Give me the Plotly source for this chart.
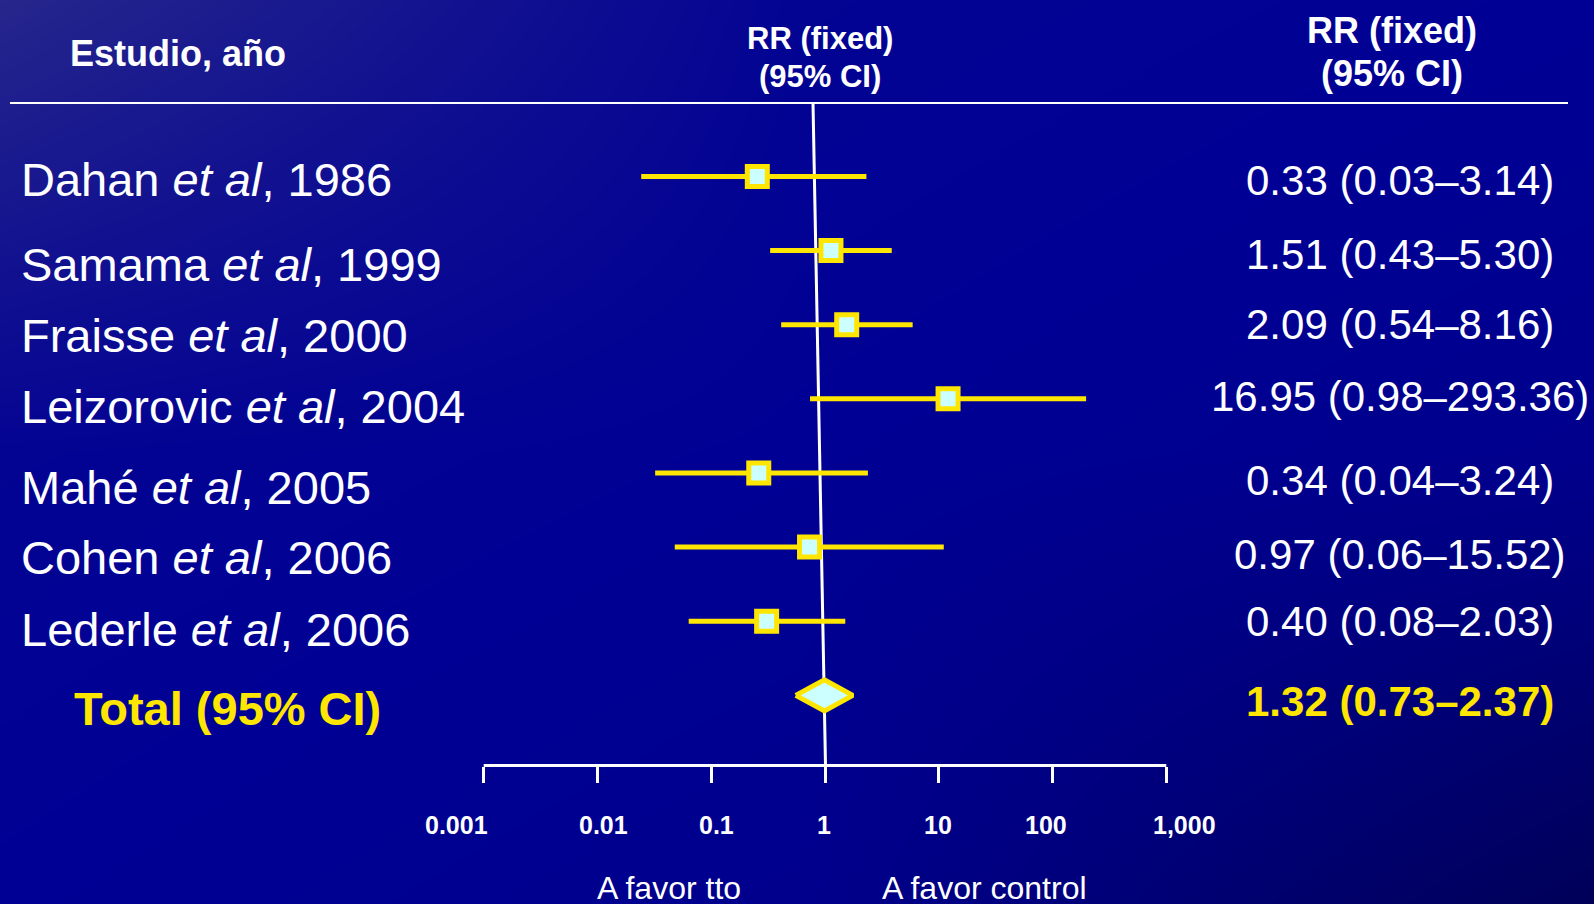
import math
import plotly.graph_objects as go

# ---------------- data ----------------
studies = ["Dahan", "Samama", "Fraisse", "Leizorovic", "Mahé", "Cohen", "Lederle"]
years = [1986, 1999, 2000, 2004, 2005, 2006, 2006]
rr = [0.33, 1.51, 2.09, 16.95, 0.34, 0.97, 0.40]
ci_low = [0.03, 0.43, 0.54, 0.98, 0.04, 0.06, 0.08]
ci_high = [3.14, 5.30, 8.16, 293.36, 3.24, 15.52, 2.03]
total_rr = 1.32
total_low = 0.73
total_high = 2.37
tick_vals = [0.001, 0.01, 0.1, 1, 10, 100, 1000]
tick_text = ["0.001", "0.01", "0.1", "1", "10", "100", "1,000"]

# ---------------- layout helpers ----------------
W, H = 1594, 904
FONT = "Arial, 'Liberation Sans', sans-serif"
YELLOW = "#FFE600"
CYAN = "#CCFFFF"

# per-row vertical offsets (px, downwards) of the text labels, as placed on the slide
name_dy = [2.6, 13.5, 10.8, 7.8, 15.0, 10.0, 7.8, 13.3]
value_dy = [3.6, 3.5, 0.3, -2.3, 7.1, 7.0, -0.2, 6.2]
# horizontal offsets (px) of the tick labels from their ticks, as placed on the slide
tick_dx = [-27.7, 6.1, 5.0, -1.5, -0.5, -6.3, 18.3]


def fx(px):
    return px / W


def fy(py):
    return 1 - py / H


# data (forest) axis: pixel of RR=1 and pixels per decade
D_ONE, D_DEC = 811.0, 111.5
# bottom scale axis
S_ONE, S_DEC = 825.0, 113.76
# rows
ROW0, ROW_STEP = 176.4, 74.14


def row_of(py):
    return (py - ROW0) / ROW_STEP


def dval(px):
    return 10 ** ((px - D_ONE) / D_DEC)


n = len(studies)
rows = list(range(n))
total_row = n

fig = go.Figure()

# background gradient
fig.add_trace(go.Heatmap(
    x=[0, 0.5, 1], y=[0, 0.5, 1],
    z=[[0.5, 0.56, 1.0], [0.45, 0.5, 0.56], [0.0, 0.45, 0.5]],
    zmin=0, zmax=1, zsmooth="best", showscale=False, hoverinfo="skip",
    colorscale=[[0, "rgb(38,38,140)"], [0.5, "rgb(0,0,148)"], [1, "rgb(0,0,88)"]],
    xaxis="x", yaxis="y",
))

# null line (slightly slanted as in the slide)
fig.add_trace(go.Scatter(
    x=[dval(813), dval(825.5)], y=[row_of(103), row_of(765.5)],
    mode="lines", line=dict(color="white", width=3),
    xaxis="x2", yaxis="y2", hoverinfo="skip", showlegend=False,
))

# CI lines
cx, cy = [], []
for i in range(n):
    cx += [ci_low[i], ci_high[i], None]
    cy += [rows[i], rows[i], None]
fig.add_trace(go.Scatter(
    x=cx, y=cy, mode="lines", line=dict(color=YELLOW, width=5),
    xaxis="x2", yaxis="y2", hoverinfo="skip", showlegend=False,
))

# point estimates
fig.add_trace(go.Scatter(
    x=rr, y=rows, mode="markers",
    marker=dict(symbol="square", size=20, color=CYAN, line=dict(color=YELLOW, width=5)),
    xaxis="x2", yaxis="y2", hoverinfo="skip", showlegend=False,
))

# total diamond
dh = 15.5 / ROW_STEP
fig.add_trace(go.Scatter(
    x=[total_low, total_rr, total_high, total_rr, total_low],
    y=[total_row, total_row - dh, total_row, total_row + dh, total_row],
    mode="lines", fill="toself", fillcolor=CYAN,
    line=dict(color=YELLOW, width=5),
    xaxis="x2", yaxis="y2", hoverinfo="skip", showlegend=False,
))

# dummy trace for the scale axis
fig.add_trace(go.Scatter(
    x=tick_vals, y=[None] * len(tick_vals), mode="markers",
    xaxis="x3", yaxis="y2", hoverinfo="skip", showlegend=False,
))

ann = []
# headers
ann.append(dict(text="<b>Estudio, año</b>", x=fx(68), y=fy(53), xanchor="left", yanchor="middle",
                font=dict(size=36, color="white", family=FONT)))
ann.append(dict(text="<b>RR (fixed)</b>", x=fx(820), y=fy(38.6), xanchor="center", yanchor="middle",
                font=dict(size=31, color="white", family=FONT)))
ann.append(dict(text="<b>(95% CI)</b>", x=fx(820), y=fy(76), xanchor="center", yanchor="middle",
                font=dict(size=31, color="white", family=FONT)))
ann.append(dict(text="<b>RR (fixed)</b>", x=fx(1392), y=fy(30.5), xanchor="center", yanchor="middle",
                font=dict(size=36, color="white", family=FONT)))
ann.append(dict(text="<b>(95% CI)</b>", x=fx(1392), y=fy(73.2), xanchor="center", yanchor="middle",
                font=dict(size=36, color="white", family=FONT)))

# study labels and values
for i in range(n):
    ann.append(dict(text=f"{studies[i]} <i>et al</i>, {years[i]}", xref="paper", yref="y2",
                    x=fx(19), y=rows[i], yshift=-name_dy[i], xanchor="left", yanchor="middle",
                    font=dict(size=47, color="white", family=FONT)))
    ann.append(dict(text=f"{rr[i]:.2f} ({ci_low[i]:.2f}–{ci_high[i]:.2f})", xref="paper", yref="y2",
                    x=fx(1400), y=rows[i], yshift=-value_dy[i], xanchor="center", yanchor="middle",
                    font=dict(size=42, color="white", family=FONT)))
ann.append(dict(text="<b>Total (95% CI)</b>", xref="paper", yref="y2",
                x=fx(72), y=total_row, yshift=-name_dy[n], xanchor="left", yanchor="middle",
                font=dict(size=47, color=YELLOW, family=FONT)))
ann.append(dict(text=f"<b>{total_rr:.2f} ({total_low:.2f}–{total_high:.2f})</b>", xref="paper", yref="y2",
                x=fx(1400), y=total_row, yshift=-value_dy[n], xanchor="center", yanchor="middle",
                font=dict(size=42, color=YELLOW, family=FONT)))

# tick labels of the scale axis (placed as on the slide; log axis -> annotation x in log10 units)
for v, t, dx in zip(tick_vals, tick_text, tick_dx):
    ann.append(dict(text=f"<b>{t}</b>", xref="x3", yref="paper", x=math.log10(v), xshift=dx, y=fy(824.5),
                    xanchor="center", yanchor="middle",
                    font=dict(size=25, color="white", family=FONT)))

# favour labels
ann.append(dict(text="A favor tto", x=fx(668.5), y=fy(888), xanchor="center", yanchor="middle",
                font=dict(size=32, color="white", family=FONT)))
ann.append(dict(text="A favor control", x=fx(985), y=fy(888), xanchor="center", yanchor="middle",
                font=dict(size=32, color="white", family=FONT)))
for a in ann:
    a.setdefault("xref", "paper")
    a.setdefault("yref", "paper")
    a["showarrow"] = False

shapes = [
    dict(type="line", xref="paper", yref="paper", x0=fx(10), x1=fx(1568), y0=fy(103), y1=fy(103),
         line=dict(color="white", width=2)),
    dict(type="line", xref="x3", yref="paper", x0=tick_vals[0], x1=tick_vals[-1], y0=fy(765.5), y1=fy(765.5),
         line=dict(color="white", width=3)),
]

fig.update_layout(
    width=W, height=H, autosize=False,
    margin=dict(l=0, r=0, t=0, b=0, pad=0),
    paper_bgcolor="rgb(0,0,148)", plot_bgcolor="rgba(0,0,0,0)",
    showlegend=False,
    annotations=ann, shapes=shapes,
    xaxis=dict(range=[0, 1], domain=[0, 1], visible=False, fixedrange=True),
    yaxis=dict(range=[0, 1], domain=[0, 1], visible=False, fixedrange=True),
    xaxis2=dict(type="log", range=[(0 - D_ONE) / D_DEC, (W - D_ONE) / D_DEC], overlaying="x",
                anchor="y2", visible=False),
    yaxis2=dict(range=[(H - ROW0) / ROW_STEP, (0 - ROW0) / ROW_STEP], overlaying="y",
                anchor="x2", visible=False),
    xaxis3=dict(type="log", range=[(0 - S_ONE) / S_DEC, (W - S_ONE) / S_DEC], overlaying="x",
                anchor="free", position=fy(765.5), side="bottom",
                tickmode="array", tickvals=tick_vals, ticktext=tick_text, showticklabels=False,
                ticks="outside", ticklen=16, tickwidth=3, tickcolor="white",
                showline=False, showgrid=False, zeroline=False),
)

fig.write_html("out.html", config={"displayModeBar": False},
               post_script="document.body.style.margin='0';document.body.style.overflow='hidden';")
